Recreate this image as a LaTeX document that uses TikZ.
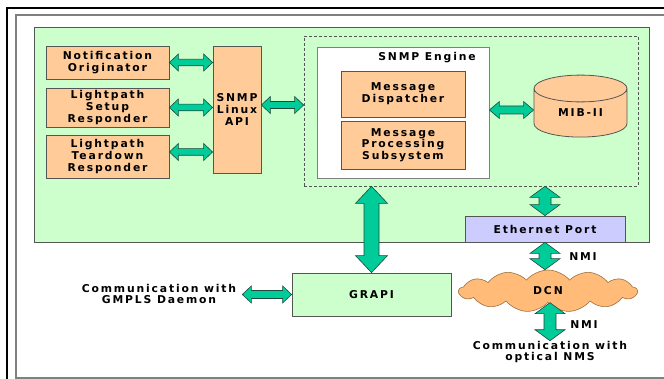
\documentclass[tikz,border=0pt]{standalone}
\usepackage{fontspec}
\usetikzlibrary{calc,shapes.geometric,shapes.symbols}
\newfontfamily\lblfont{DejaVu Sans}[LetterSpace=17]
\definecolor{hostgreen}{HTML}{CCFFCC}
\definecolor{boxorange}{HTML}{FFCC99}
\definecolor{arrowteal}{HTML}{00CC99}
\definecolor{arrowedge}{HTML}{1E4A3C}
\definecolor{cloudorange}{HTML}{FFBB77}
\definecolor{cloudedge}{HTML}{A07040}
\definecolor{portblue}{HTML}{CCCCFF}
\definecolor{edgegrey}{HTML}{555555}

\tikzset{
  lbl/.style={font=\lblfont\bfseries\fontsize{10.8}{11.7}\selectfont,
    align=center, text=black, inner sep=0pt},
  block/.style={lbl, rectangle, draw=edgegrey, line width=0.8pt, fill=boxorange},
  fatarrowstyle/.style={fill=arrowteal, draw=arrowedge, line width=0.6pt, line join=miter},
}

% wide double-headed arrow: shaft half width, head half width, head length, from, to
\newcommand\fatarrow[5]{%
  \coordinate (fa-a) at (#4);
  \coordinate (fa-b) at (#5);
  \coordinate (fa-p) at ($(fa-a)!#3!(fa-b)$);
  \coordinate (fa-q) at ($(fa-b)!#3!(fa-a)$);
  \path[fatarrowstyle] (fa-a)
    -- ($(fa-p)!#2!90:(fa-b)$) -- ($(fa-p)!#1!90:(fa-b)$)
    -- ($(fa-q)!#1!-90:(fa-a)$) -- ($(fa-q)!#2!-90:(fa-a)$)
    -- (fa-b)
    -- ($(fa-q)!#2!90:(fa-a)$) -- ($(fa-q)!#1!90:(fa-a)$)
    -- ($(fa-p)!#1!-90:(fa-b)$) -- ($(fa-p)!#2!-90:(fa-b)$)
    -- cycle;}

\begin{document}
\begin{tikzpicture}[x=1pt,y=-1pt]
\useasboundingbox (0,0) rectangle (664,379);

% page frame
\draw[line width=2.5pt, black] (7,379) -- (7,8) -- (664,8);
\draw[line width=1.4pt, gray] (664,15) -- (16,15) -- (16,378) -- (664,378);

% host area and SNMP agent
\node[rectangle, draw=edgegrey, line width=0.8pt, fill=hostgreen, inner sep=0pt,
      minimum width=615pt, minimum height=215pt] (host) at (341.5,134.5) {};
\node[rectangle, draw=edgegrey, line width=0.7pt, dash pattern=on 3pt off 2pt, inner sep=0pt,
      minimum width=334pt, minimum height=150pt] (agent) at (471,111) {};
\node[rectangle, draw=gray, fill=white, line width=0.8pt, inner sep=0pt,
      minimum width=172pt, minimum height=131pt] (engine) at (403,112.5) {};
\node[lbl] (enginetitle) at (427,58) {SNMP Engine};

% applications
\node[block, minimum width=123pt, minimum height=33pt] (notif) at (107.5,62.5) {Notification\\Originator};
\node[block, minimum width=123pt, minimum height=39pt] (setup) at (107.5,107.5) {Lightpath\\Setup\\Responder};
\node[block, minimum width=123pt, minimum height=43pt] (tear) at (107.5,156.5) {Lightpath\\Teardown\\Responder};
\node[block, minimum width=48pt, minimum height=127pt] (api) at (237,109.5) {SNMP\\Linux\\API};

% engine internals
\node[block, minimum width=124pt, minimum height=46pt] (disp) at (403,94) {Message\\Dispatcher};
\node[block, minimum width=124pt, minimum height=48pt] (mps) at (403,145) {Message\\Processing\\Subsystem};
\node[lbl, cylinder, shape border rotate=90, aspect=0.6, draw=edgegrey, fill=boxorange,
      line width=0.8pt, minimum width=93pt, minimum height=62pt] (mib) at (580.5,113) {MIB-II};

% network side
\node[block, fill=portblue, minimum width=160pt, minimum height=26pt] (eth) at (545,229) {Ethernet Port};
\node[block, fill=hostgreen, minimum width=159pt, minimum height=43pt] (grapi) at (371.5,294.5) {GRAPI};
\node[lbl, cloud, cloud puffs=13, cloud puff arc=100, cloud ignores aspect, fill=cloudorange,
      draw=cloudedge, line width=0.6pt, minimum width=178pt, minimum height=42pt] (dcn) at (548,291) {DCN};

\node[lbl] (gmpls) at (159,294) {Communication with\\GMPLS Daemon};
\node[lbl] (nms) at (550,352) {Communication with\\optical NMS};
\node[lbl] (nmitop) at (583,257) {NMI};
\node[lbl] (nmibot) at (584,325) {NMI};

% connectors
\fatarrow{3.3pt}{8.5pt}{9pt}{notif.east}{api.west |- notif.east}
\fatarrow{3.3pt}{8.5pt}{9pt}{setup.east}{api.west |- setup.east}
\coordinate (tearport) at ([yshift=4.5pt]tear.east);
\fatarrow{3.3pt}{8.5pt}{9pt}{tearport}{api.west |- tearport}
\coordinate (apiport) at ([yshift=4.5pt]api.east);
\fatarrow{3.5pt}{8.5pt}{9pt}{apiport}{agent.west |- apiport}
\coordinate (mibport) at ([yshift=3pt]mib.west);
\fatarrow{4pt}{8.5pt}{10pt}{engine.east |- mibport}{mibport}
\fatarrow{7.5pt}{16pt}{17pt}{grapi.north |- agent.south}{grapi.north}
\fatarrow{6pt}{15pt}{11pt}{eth.north |- agent.south}{eth.north}
\fatarrow{6pt}{15pt}{11pt}{eth.south}{eth.south |- dcn.north}
\fatarrow{6pt}{15pt}{11pt}{nms.north |- dcn.south}{nms.north}
\coordinate (gmplsport) at ([xshift=6pt]gmpls.east);
\fatarrow{4pt}{8.5pt}{9pt}{gmplsport |- grapi.west}{grapi.west}
\end{tikzpicture}
\end{document}
